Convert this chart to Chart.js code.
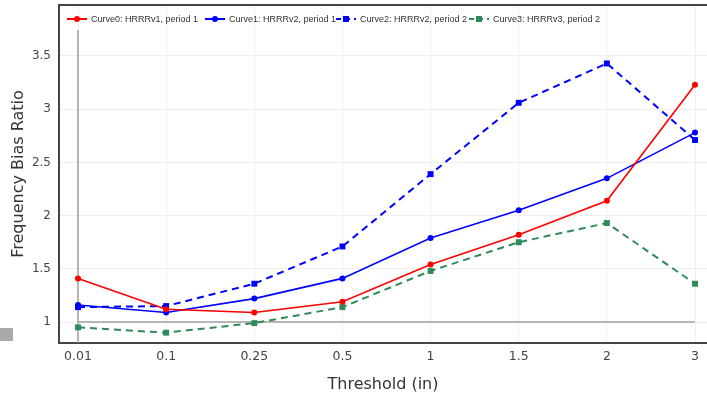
<!DOCTYPE html>
<html>
<head>
<meta charset="utf-8">
<script src="https://cdn.jsdelivr.net/npm/chart.js@4/dist/chart.umd.min.js"></script>
<style>
  html, body { margin: 0; padding: 0; background: #fff; }
  #wrap { position: relative; width: 707px; height: 403px; }
  #chip { position: absolute; left: 0; top: 328px; width: 13px; height: 13px; background: #a9a9a9; }
</style>
</head>
<body>
<div id="wrap">
  <canvas id="c" width="707" height="403"></canvas>
  <div id="chip"></div>
</div>
<script>
const categories = ['0.01', '0.1', '0.25', '0.5', '1', '1.5', '2', '3'];
const curve0 = [1.41, 1.12, 1.09, 1.19, 1.54, 1.82, 2.14, 3.23];
const curve1 = [1.16, 1.09, 1.22, 1.41, 1.79, 2.05, 2.35, 2.78];
const curve2 = [1.14, 1.15, 1.36, 1.71, 2.39, 3.06, 3.43, 2.71];
const curve3 = [0.95, 0.90, 0.99, 1.14, 1.48, 1.75, 1.93, 1.36];
const yTicks = [1, 1.5, 2, 2.5, 3, 3.5];
const labels = [
  'Curve0: HRRRv1, period 1',
  'Curve1: HRRRv2, period 1',
  'Curve2: HRRRv2, period 2',
  'Curve3: HRRRv3, period 2'
];

const toXY = arr => arr.map((v, i) => ({ x: i, y: v }));
const FONT = "'DejaVu Sans', Verdana, sans-serif";
const LFONT = "'Liberation Sans', Arial, sans-serif";

function ds(label, data, color, dashed, square) {
  return {
    label: label,
    data: toXY(data),
    borderColor: color,
    backgroundColor: color,
    borderWidth: dashed ? 2 : 1.6,
    borderDash: dashed ? [7, 5] : [],
    pointStyle: square ? 'rect' : 'circle',
    pointRadius: square ? 4.2 : 3,
    pointHoverRadius: square ? 4.2 : 3,
    pointBorderWidth: 0,
    tension: 0,
    fill: false
  };
}

const datasets = [
  ds(labels[0], curve0, '#ff0000', false, false),
  ds(labels[1], curve1, '#0000ff', false, false),
  ds(labels[2], curve2, '#0000ff', true, true),
  ds(labels[3], curve3, '#2e8b57', true, true)
];

const decor = {
  id: 'decor',
  beforeDatasetsDraw(chart) {
    const ctx = chart.ctx;
    const xs = chart.scales.x, ys = chart.scales.y;
    ctx.save();
    ctx.strokeStyle = '#a0a0a0';
    ctx.lineWidth = 1.5;
    const x0 = xs.getPixelForValue(0);
    ctx.beginPath();
    ctx.moveTo(x0, 30);
    ctx.lineTo(x0, chart.chartArea.bottom);
    ctx.stroke();
    const y1 = ys.getPixelForValue(1);
    ctx.beginPath();
    ctx.moveTo(x0, y1);
    ctx.lineTo(xs.getPixelForValue(categories.length - 1), y1);
    ctx.stroke();
    ctx.restore();
  },
  afterDraw(chart) {
    const ctx = chart.ctx;
    const a = chart.chartArea;
    ctx.save();
    ctx.strokeStyle = '#444';
    ctx.lineWidth = 2;
    ctx.beginPath();
    ctx.moveTo(a.left - 1, a.top);
    ctx.lineTo(chart.width, a.top);
    ctx.stroke();
    const starts = [67, 205, 336, 469];
    const ly = 19;
    ctx.font = '9px ' + LFONT;
    ctx.textBaseline = 'middle';
    chart.data.datasets.forEach((d, i) => {
      const sx = starts[i];
      ctx.strokeStyle = d.borderColor;
      ctx.fillStyle = d.borderColor;
      ctx.lineWidth = 2;
      ctx.setLineDash(d.borderDash.length ? [5, 4] : []);
      ctx.beginPath();
      ctx.moveTo(sx, ly);
      ctx.lineTo(sx + 20, ly);
      ctx.stroke();
      ctx.setLineDash([]);
      if (d.pointStyle === 'rect') {
        ctx.fillRect(sx + 7, ly - 3, 6, 6);
      } else {
        ctx.beginPath();
        ctx.arc(sx + 10, ly, 3, 0, Math.PI * 2);
        ctx.fill();
      }
      ctx.fillStyle = '#333';
      ctx.textAlign = 'left';
      ctx.fillText(d.label, sx + 24, ly + 0.5);
    });
    ctx.restore();
  }
};

new Chart(document.getElementById('c'), {
  type: 'line',
  data: { datasets: datasets },
  options: {
    responsive: false,
    animation: false,
    layout: { autoPadding: false, padding: { top: 5, right: 0, left: 0, bottom: 0 } },
    plugins: { legend: { display: false }, tooltip: { enabled: false } },
    scales: {
      x: {
        type: 'linear',
        min: -0.2156,
        max: 7.136,
        afterBuildTicks: s => { s.ticks = categories.map((c, i) => ({ value: i })); },
        afterFit: s => { s.height = 60; s.paddingLeft = 0; s.paddingRight = 0; },
        ticks: {
          callback: v => categories[v],
          font: { family: FONT, size: 12.5 },
          color: '#444',
          padding: 6,
          maxRotation: 0,
          autoSkip: false
        },
        grid: { color: '#efefef', lineWidth: 1, drawTicks: false },
        border: { display: true, color: '#444', width: 2 },
        title: {
          display: true,
          text: 'Threshold (in)',
          font: { family: FONT, size: 16 },
          color: '#333',
          padding: { top: 0, bottom: 9 }
        }
      },
      y: {
        type: 'linear',
        min: 0.803,
        max: 3.979,
        afterBuildTicks: s => { s.ticks = yTicks.map(v => ({ value: v })); },
        afterFit: s => { s.width = 59; s.paddingTop = 0; s.paddingBottom = 0; },
        ticks: {
          callback: v => String(v),
          font: { family: FONT, size: 12 },
          color: '#444',
          padding: 8
        },
        grid: { color: '#efefef', lineWidth: 1, drawTicks: false },
        border: { display: true, color: '#444', width: 2 },
        title: {
          display: true,
          text: 'Frequency Bias Ratio',
          font: { family: FONT, size: 16 },
          color: '#333',
          padding: { top: 9, bottom: 0 }
        }
      }
    }
  },
  plugins: [decor]
});
</script>
</body>
</html>
